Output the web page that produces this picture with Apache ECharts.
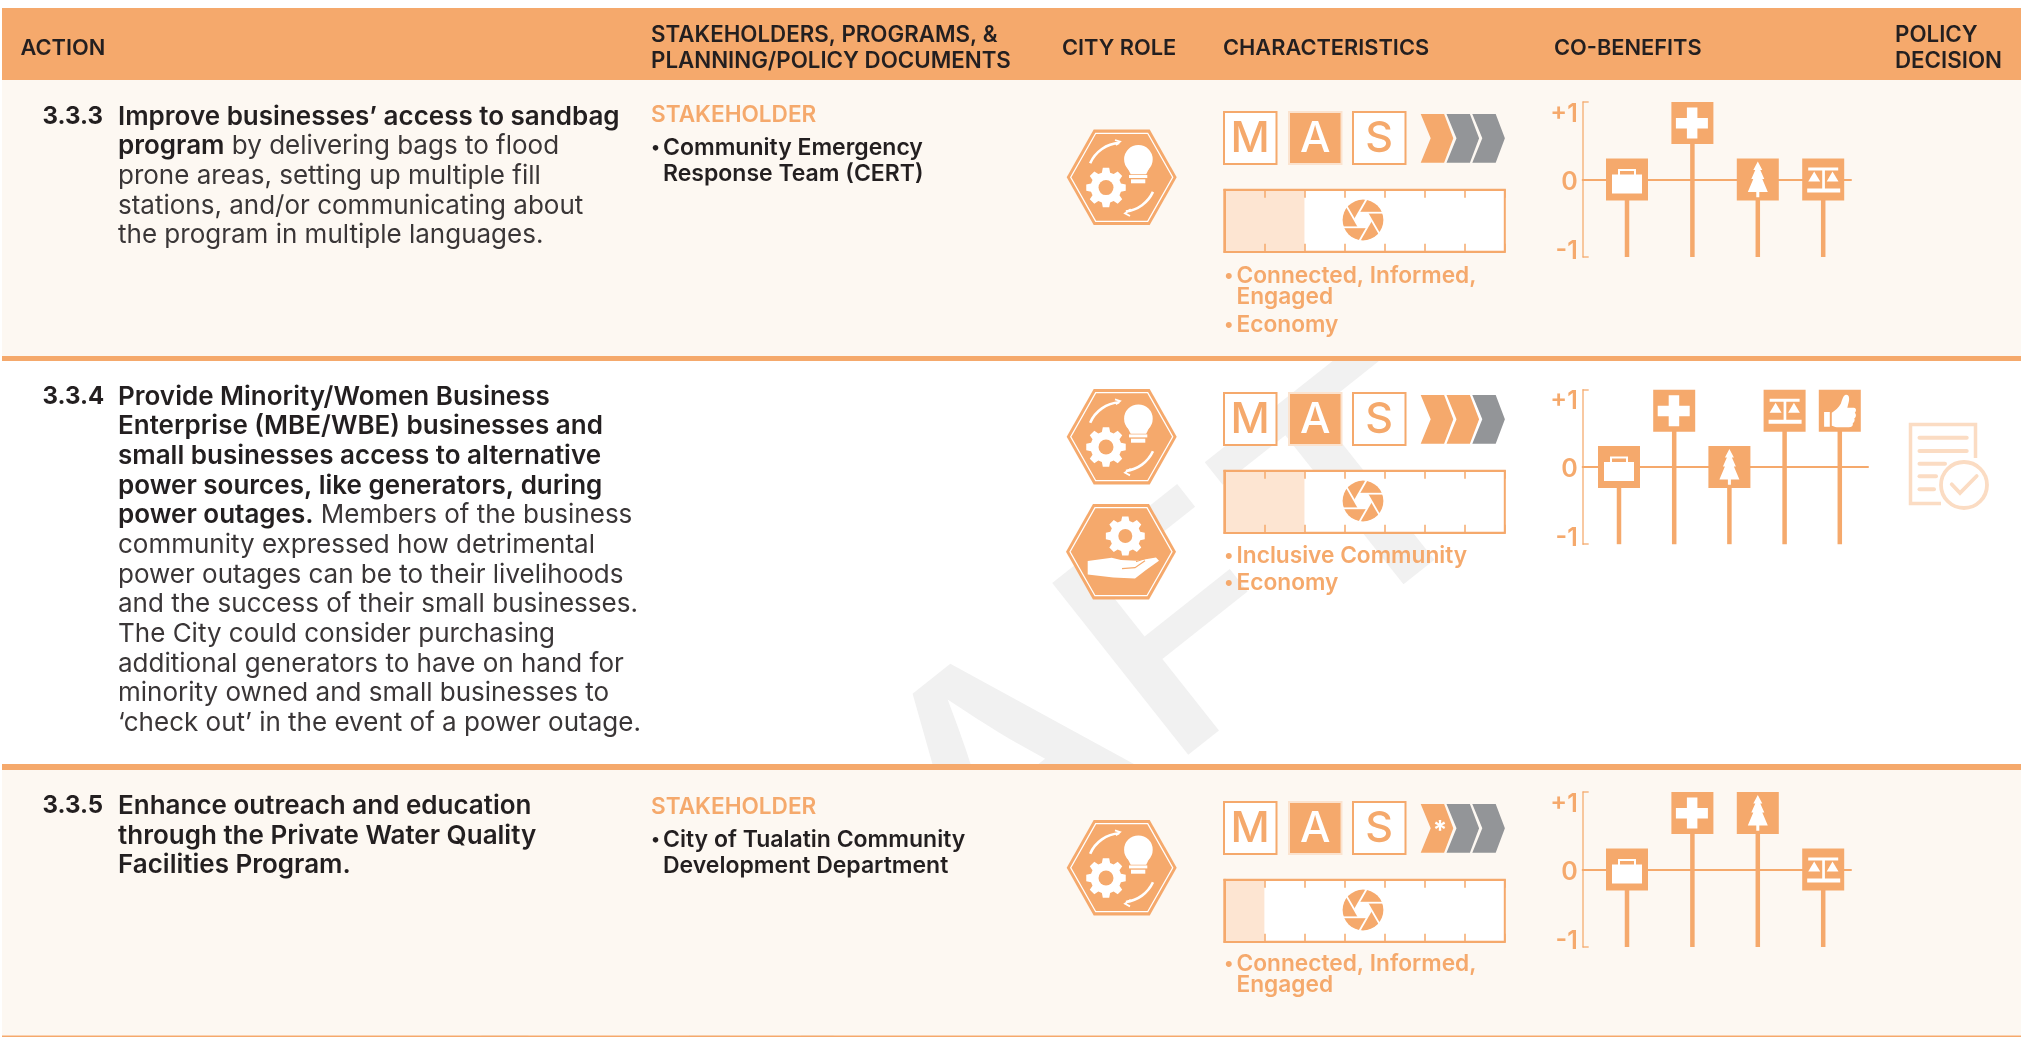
<!DOCTYPE html>
<html>
<head>
<meta charset="utf-8">
<style>html,body{margin:0;padding:0;background:#fff}#c{width:2021px;height:1037px}</style>
<script src="https://cdn.jsdelivr.net/npm/echarts@6/dist/echarts.min.js"></script>
</head>
<body>
<div id="c"></div>
<script>
const headerLabels = [
  ['ACTION'], ['STAKEHOLDERS, PROGRAMS, &', 'PLANNING/POLICY DOCUMENTS'], ['CITY ROLE'],
  ['CHARACTERISTICS'], ['CO-BENEFITS'], ['POLICY', 'DECISION']
];
const actionNumbers = ['3.3.3', '3.3.4', '3.3.5'];
const actionLines1 = [
  ['Improve businesses’ access to sandbag', ''],
  ['program', ' by delivering bags to flood'],
  ['', 'prone areas, setting up multiple fill'],
  ['', 'stations, and/or communicating about'],
  ['', 'the program in multiple languages.']
];
const actionLines2 = [
  ['Provide Minority/Women Business', ''],
  ['Enterprise (MBE/WBE) businesses and', ''],
  ['small businesses access to alternative', ''],
  ['power sources, like generators, during', ''],
  ['power outages.', ' Members of the business'],
  ['', 'community expressed how detrimental'],
  ['', 'power outages can be to their livelihoods'],
  ['', 'and the success of their small businesses.'],
  ['', 'The City could consider purchasing'],
  ['', 'additional generators to have on hand for'],
  ['', 'minority owned and small businesses to'],
  ['', '‘check out’ in the event of a power outage.']
];
const actionLines3 = [
  ['Enhance outreach and education', ''],
  ['through the Private Water Quality', ''],
  ['Facilities Program.', '']
];
const stakeholderHeading = 'STAKEHOLDER';
const stakeholders1 = ['Community Emergency', 'Response Team (CERT)'];
const stakeholders3 = ['City of Tualatin Community', 'Development Department'];
const masLetters = ['M', 'A', 'S'];
const masActive = [1, 1, 1];
const chevronsFilled = [1, 2, 1];
const chevronStar = [false, false, true];
const timelineValues = [2, 2, 1];
const timelineSegments = 7;
const characteristics1 = [['Connected, Informed,', 'Engaged'], ['Economy']];
const characteristics2 = [['Inclusive Community'], ['Economy']];
const characteristics3 = [['Connected, Informed,', 'Engaged']];
const axisTickLabels = { '1': '{top|+1}', '0': '{mid|0}', '-1': '{low|-1}' };
const coBenefitIcons1 = ['briefcase', 'cross', 'tree', 'scales'];
const coBenefitValues1 = [0, 1, 0, 0];
const coBenefitIcons2 = ['briefcase', 'cross', 'tree', 'scales', 'thumb'];
const coBenefitValues2 = [0, 1, 0, 1, 1];
const coBenefitIcons3 = ['briefcase', 'cross', 'tree', 'scales'];
const coBenefitValues3 = [0, 1, 1, 0];

const ORANGE = '#F5A96C', PALE = '#FDE5D2', GREY = '#939598', CREAM = '#FDF8F2', DARK = '#231F20';
const FONT = 'Inter';

const iconPaths = {
  briefcase: 'M6 16H36V35H6ZM12 16V10.5H30V16H28V12.5H14V16Z',
  cross: 'M15.5 5.5H26V16H36.5V26.5H26V36.5H15.5V26.5H4.5V16H15.5Z',
  tree: 'M21 3L25.5 11.5H23.5L27.5 20.5H25.5L31 33.5H22.5V38.7H19.5V33.5H11L16.5 20.5H14.5L18.5 11.5H16.5Z',
  scales: 'M6 9H36V12H22.7V30H38V34H5V30H20V12H6ZM12 13L18 23H6ZM30.3 13L36.3 23H24.5Z',
  thumb: 'M5.3 22.3H11V37H5.3ZM13 23C16 21 20 18 22 14C23.5 10 24 6 27 5C30 4.5 31 8 30 12L28.5 18H35C38 18 37.5 22 36 23C38 25 37 28 35.5 28.5C36.5 31 35 33 34 33.5C34.5 36 33 37.5 30 37.5H18C16 37.5 14 36 13 36Z'
};

const g = [];
function rect(x, y, w, h, fill, z, extra) {
  g.push(Object.assign({ type: 'rect', silent: true, z: z, shape: { x, y, width: w, height: h }, style: { fill } }, extra || {}));
}
function text(x, y, t, size, weight, fill, z) {
  g.push({ type: 'text', silent: true, z: z == null ? 10 : z, x, y,
    style: { text: t, fontFamily: FONT, fontSize: size, fontWeight: weight, fill, align: 'left', verticalAlign: 'middle' } });
}
function poly(points, fill, z, extra) {
  g.push(Object.assign({ type: 'polygon', silent: true, z: z == null ? 10 : z, shape: { points }, style: { fill } }, extra || {}));
}
function circle(cx, cy, r, style, z) {
  g.push({ type: 'circle', silent: true, z: z == null ? 10 : z, shape: { cx, cy, r }, style });
}
function gear(cx, cy, R, r, hole) {
  const pts = [];
  for (let i = 0; i < 8; i++) {
    const a = i * Math.PI / 4;
    [[-0.27, r], [-0.16, R], [0.16, R], [0.27, r]].forEach(p =>
      pts.push([cx + p[1] * Math.cos(a + p[0]), cy + p[1] * Math.sin(a + p[0])]));
  }
  poly(pts, '#fff', 12);
  circle(cx, cy, hole, { fill: ORANGE }, 13);
}
function hexagon(cx, cy) {
  const hex = (w, t, h) => [[cx - w, cy], [cx - t, cy - h], [cx + t, cy - h], [cx + w, cy], [cx + t, cy + h], [cx - t, cy + h]];
  poly(hex(55, 28, 47.8), ORANGE, 11);
  poly(hex(51, 26, 44), 'none', 12, { style: { fill: 'none', stroke: '#fff', lineWidth: 1.3 } });
}
function roleInnovate(cx, cy) {
  hexagon(cx, cy);
  gear(cx - 15.7, cy + 10.3, 20, 15.5, 7.5);
  circle(cx + 16.7, cy - 18, 14.3, { fill: '#fff' }, 12);
  poly([[cx + 5, cy - 11], [cx + 28.4, cy - 11], [cx + 24.5, cy - 3], [cx + 9, cy - 3]], '#fff', 12);
  rect(cx + 7.3, cy - 2.3, 18.3, 3, '#fff', 12);
  rect(cx + 9.3, cy + 2, 14.3, 4, '#fff', 12);
  const arc = (s, e) => g.push({ type: 'arc', silent: true, z: 12,
    shape: { cx, cy, r: 34.5, startAngle: s * Math.PI / 180, endAngle: e * Math.PI / 180, clockwise: true },
    style: { fill: 'none', stroke: '#fff', lineWidth: 2.6 } });
  arc(204, 266); arc(25, 83);
  g.push({ type: 'polyline', silent: true, z: 12, shape: { points: [[cx - 6.7, cy - 37.3], [cx - 1.7, cy - 35.7], [cx - 5.7, cy - 32.3]] }, style: { fill: 'none', stroke: '#fff', lineWidth: 1.8 } });
  g.push({ type: 'polyline', silent: true, z: 12, shape: { points: [[cx + 9, cy + 32], [cx + 3.3, cy + 36], [cx + 8.3, cy + 38.7]] }, style: { fill: 'none', stroke: '#fff', lineWidth: 1.8 } });
}
function roleProvide(cx, cy) {
  hexagon(cx, cy);
  gear(cx + 4.3, cy - 15.7, 19.7, 15.5, 7);
  poly([[cx - 33.3, cy + 9.3], [cx - 9.3, cy + 6], [cx, cy + 8.3], [cx + 15.7, cy + 9], [cx + 35, cy + 5.7], [cx + 38, cy + 9],
        [cx + 25, cy + 18.3], [cx + 14, cy + 26.7], [cx - 7.7, cy + 25.7], [cx - 33.3, cy + 22.7]], '#fff', 12);
  g.push({ type: 'polyline', silent: true, z: 13, shape: { points: [[cx + 1, cy + 17], [cx + 14, cy + 16], [cx + 24, cy + 9]] }, style: { fill: 'none', stroke: ORANGE, lineWidth: 1.2 } });
  g.push({ type: 'line', silent: true, z: 13, shape: { x1: cx + 15, y1: cy + 10, x2: cx + 27, y2: cy + 6 }, style: { stroke: ORANGE, lineWidth: 1 } });
}
function aperture(cx, cy) {
  const R = 20.4, a = 7.3, h = a / Math.cos(Math.PI / 6);
  circle(cx, cy, R, { fill: ORANGE }, 10);
  const v = [];
  for (let i = 0; i < 6; i++) { const t = (-120 + 60 * i) * Math.PI / 180; v.push([cx + h * Math.cos(t), cy + h * Math.sin(t)]); }
  poly(v, '#fff', 11);
  for (let i = 0; i < 6; i++) {
    const p = v[i], q = v[(i + 1) % 6];
    const dx = q[0] - p[0], dy = q[1] - p[1], l = Math.hypot(dx, dy);
    const e = [q[0] + dx / l * (R + 2), q[1] + dy / l * (R + 2)];
    g.push({ type: 'line', silent: true, z: 11, shape: { x1: p[0], y1: p[1], x2: e[0], y2: e[1] }, style: { stroke: '#fff', lineWidth: 1.8 } });
  }
  g.push({ type: 'circle', silent: true, z: 11, shape: { cx, cy, r: R + 2.6 }, style: { fill: 'none', stroke: '#fff', lineWidth: 4 } });
}
function characteristicsBlock(dy, active, filled, star, texts, ys) {
  const X = [1224, 1289, 1353];
  masLetters.forEach((m, i) => {
    const on = active === i;
    rect(X[i], dy + 112, 52.5, 52, on ? ORANGE : '#fff', 10, { style: { fill: on ? ORANGE : '#fff', stroke: on ? '#FBE3CF' : ORANGE, lineWidth: 2 } });
    g.push({ type: 'text', silent: true, z: 11, x: X[i] + 26.2, y: dy + 139,
      style: { text: m, fontFamily: FONT, fontSize: 43, fontWeight: 500, fill: on ? '#fff' : ORANGE, align: 'center', verticalAlign: 'middle' } });
  });
  for (let i = 0; i < 3; i++) {
    const o = 1420.7 + 25.8 * i, t = dy + 114, b = dy + 162.7, m = dy + 138.3;
    poly([[o, t], [o + 23.4, t], [o + 32.6, m], [o + 23.4, b], [o, b], [o + 10, m]], i < filled ? ORANGE : GREY, 10);
  }
  if (star) {
    g.push({ type: 'text', silent: true, z: 11, x: 1440, y: dy + 141,
      style: { text: '*', fontFamily: FONT, fontSize: 26, fontWeight: 700, fill: '#fff', align: 'center', verticalAlign: 'middle' } });
  }
  aperture(1363, dy + 220);
  let k = 0;
  texts.forEach(item => {
    item.forEach((line, j) => {
      if (j === 0) text(1224, ys[k], '•', 19, 600, ORANGE);
      text(1236.5, ys[k], line, 22.7, 600, ORANGE);
      k++;
    });
  });
}
function actionBlock(num, lines, y0, step) {
  text(42.5, y0, num, 24, 700, DARK);
  lines.forEach((l, i) => {
    const t = (l[0] ? '{b|' + l[0] + '}' : '') + (l[1] ? '{r|' + l[1] + '}' : '');
    g.push({ type: 'text', silent: true, z: 10, x: 118, y: y0 + step * i,
      style: { text: t, align: 'left', verticalAlign: 'middle',
        rich: { b: { fontFamily: FONT, fontSize: 26, fontWeight: 600, fill: DARK },
                r: { fontFamily: FONT, fontSize: 26, fontWeight: 400, fill: '#3a3637' } } } });
  });
}
function stakeholderBlock(items, y0) {
  text(651, y0, stakeholderHeading, 22.6, 600, ORANGE);
  items.forEach((s, i) => {
    if (i === 0) text(651, y0 + 33, '•', 18, 600, DARK);
    text(663, y0 + 33 + 26 * i, s, 23, 600, DARK);
  });
}

/* page furniture */
rect(2, 8, 2019, 72, ORANGE, -5);
rect(2, 80, 2019, 276, CREAM, -5);
rect(2, 356, 2019, 5, ORANGE, -4);
rect(2, 764, 2019, 6, ORANGE, -4);
rect(2, 770, 2019, 265.5, CREAM, -5);
rect(2, 1035.5, 2019, 1.5, ORANGE, -4);
/* watermark, visible only through the white row */
g.push({ type: 'text', silent: true, z: -8, x: 536, y: 1156, rotation: 0.67, scaleX: 1.17, scaleY: 1,
  style: { text: 'DRAFT', fontFamily: FONT, fontSize: 301, fontWeight: 500, fill: '#F1F1F1', align: 'left', verticalAlign: 'middle' } });

/* header */
const HS = 21.8, HS2 = 22.3;
text(20.5, 48.5, headerLabels[0][0], HS, 600, DARK);
text(651, 35.7, headerLabels[1][0], HS2, 600, DARK);
text(651, 61.2, headerLabels[1][1], HS2, 600, DARK);
text(1062, 48.5, headerLabels[2][0], HS, 600, DARK);
text(1223, 48.5, headerLabels[3][0], HS, 600, DARK);
text(1554, 48.5, headerLabels[4][0], HS, 600, DARK);
text(1895, 35.7, headerLabels[5][0], HS2, 600, DARK);
text(1895, 61.2, headerLabels[5][1], HS2, 600, DARK);

actionBlock(actionNumbers[0], actionLines1, 117, 29.6);
actionBlock(actionNumbers[1], actionLines2, 397, 29.66);
actionBlock(actionNumbers[2], actionLines3, 806, 29.7);
stakeholderBlock(stakeholders1, 114.8);
stakeholderBlock(stakeholders3, 807);

roleInnovate(1121.7, 177.3);
roleInnovate(1121.7, 436.7);
roleProvide(1121, 551.7);
roleInnovate(1121.7, 867.7);

characteristicsBlock(0, masActive[0], chevronsFilled[0], chevronStar[0], characteristics1, [276, 297.5, 325.5]);
characteristicsBlock(281, masActive[1], chevronsFilled[1], chevronStar[1], characteristics2, [556, 583]);
characteristicsBlock(690, masActive[2], chevronsFilled[2], chevronStar[2], characteristics3, [964, 985]);

/* policy decision icon */
const DOC = '#FBDCC3';
g.push({ type: 'polyline', silent: true, z: 10, shape: { points: [[1975.5, 458], [1975.5, 424.5], [1910.5, 424.5], [1910.5, 503.5], [1941, 503.5]] }, style: { fill: 'none', stroke: DOC, lineWidth: 3.5 } });
[[423 + 14.7, 1966.7], [423 + 28, 1966.7], [423 + 40.7, 1945], [423 + 53.3, 1936], [423 + 66.3, 1934]].forEach(l =>
  g.push({ type: 'line', silent: true, z: 10, shape: { x1: 1919.5, y1: l[0], x2: l[1], y2: l[0] }, style: { stroke: DOC, lineWidth: 4, lineCap: 'round' } }));
circle(1964, 485, 23, { fill: '#fff', stroke: DOC, lineWidth: 3.8 }, 11);
g.push({ type: 'polyline', silent: true, z: 12, shape: { points: [[1951.7, 484.3], [1960, 493], [1976.7, 476]] }, style: { fill: 'none', stroke: DOC, lineWidth: 3.8, lineCap: 'round' } });

/* axes, grids, series */
const grids = [], xAxes = [], yAxes = [], series = [];
function addTimeline(top, value) {
  const gi = grids.length;
  grids.push({ left: 1224.3, width: 280.5, top, height: 62, show: true, backgroundColor: '#fff', borderColor: ORANGE, borderWidth: 2, containLabel: false });
  const xi = xAxes.length;
  ['bottom', 'top'].forEach(pos => xAxes.push({ type: 'value', gridIndex: gi, position: pos, min: 0, max: timelineSegments, interval: 1, z: 5,
    axisLine: { show: true, onZero: false, lineStyle: { color: ORANGE, width: 2 } },
    axisTick: { show: true, inside: true, length: 8, lineStyle: { color: ORANGE, width: 1.5 } },
    axisLabel: { show: false }, splitLine: { show: false } }));
  const yi = yAxes.length;
  yAxes.push({ type: 'category', gridIndex: gi, data: ['timeline'], z: 5,
    axisLine: { show: true, onZero: false, lineStyle: { color: ORANGE, width: 2 } }, axisTick: { show: false }, axisLabel: { show: false } });
  series.push({ type: 'bar', xAxisIndex: xi, yAxisIndex: yi, data: [value], barWidth: '100%', itemStyle: { color: PALE }, silent: true, animation: false });
}
function addCoBenefit(axisLeft, axisRight, top, height, firstX, stepX, icons, values) {
  const gi = grids.length;
  grids.push({ left: axisLeft, width: axisRight - axisLeft, top, height, containLabel: false });
  const xi = xAxes.length, yi = yAxes.length;
  xAxes.push({ type: 'value', gridIndex: gi, min: (axisLeft - firstX) / stepX, max: (axisRight - firstX) / stepX,
    axisLine: { show: true, onZero: true, lineStyle: { color: ORANGE, width: 2 } }, axisTick: { show: false }, axisLabel: { show: false }, splitLine: { show: false } });
  const labelStyle = p => ({ color: ORANGE, fontFamily: FONT, fontSize: 25, fontWeight: 600, padding: p });
  yAxes.push({ type: 'value', gridIndex: gi, min: -1, max: 1, interval: 1,
    axisLine: { show: true, onZero: false, lineStyle: { color: ORANGE, width: 1.5, opacity: 0.85 } },
    axisTick: { show: true, inside: true, length: 6, lineStyle: { color: ORANGE, width: 1.5, opacity: 0.85 } },
    splitLine: { show: false },
    axisLabel: { show: true, margin: 5, color: ORANGE, fontFamily: FONT, fontSize: 25, fontWeight: 600,
      verticalAlign: 'middle', verticalAlignMinLabel: 'middle', verticalAlignMaxLabel: 'middle',
      rich: { top: labelStyle([24, 0, 0, 0]), mid: labelStyle([6, 0, 0, 0]), low: labelStyle([0, 0, 12, 0]) },
      formatter: v => axisTickLabels[String(v)] } });
  series.push({ type: 'custom', xAxisIndex: xi, yAxisIndex: yi, clip: false, silent: true, animation: false,
    data: values.map((v, i) => [i, v, i]),
    renderItem(params, api) {
      const i = api.value(0), v = api.value(1), name = icons[api.value(2)];
      const p = api.coord([i, v]), base = api.coord([i, -1]);
      const S = 42, cy = p[1] + (v > 0 ? S / 2 : 0);
      return { type: 'group', children: [
        { type: 'rect', shape: { x: p[0] - 2.25, y: cy, width: 4.5, height: base[1] - cy }, style: { fill: ORANGE } },
        { type: 'rect', shape: { x: p[0] - S / 2, y: cy - S / 2, width: S, height: S }, style: { fill: ORANGE } },
        { type: 'path', x: p[0] - S / 2, y: cy - S / 2, shape: { pathData: iconPaths[name] }, style: { fill: '#fff' } }
      ] };
    } });
}
addTimeline(189.7, timelineValues[0]);
addTimeline(470.7, timelineValues[1]);
addTimeline(879.7, timelineValues[2]);
addCoBenefit(1582.7, 1851, 102, 155, 1627, 65.4, coBenefitIcons1, coBenefitValues1);
addCoBenefit(1582.7, 1868, 389.7, 154.5, 1619, 55.2, coBenefitIcons2, coBenefitValues2);
addCoBenefit(1582.7, 1851, 792, 155, 1627, 65.4, coBenefitIcons3, coBenefitValues3);

const chart = echarts.init(document.getElementById('c'), null, { renderer: 'canvas' });
chart.setOption({
  animation: false,
  backgroundColor: '#fff',
  tooltip: { show: false },
  grid: grids, xAxis: xAxes, yAxis: yAxes, series,
  graphic: { elements: g }
});
</script>
</body>
</html>
